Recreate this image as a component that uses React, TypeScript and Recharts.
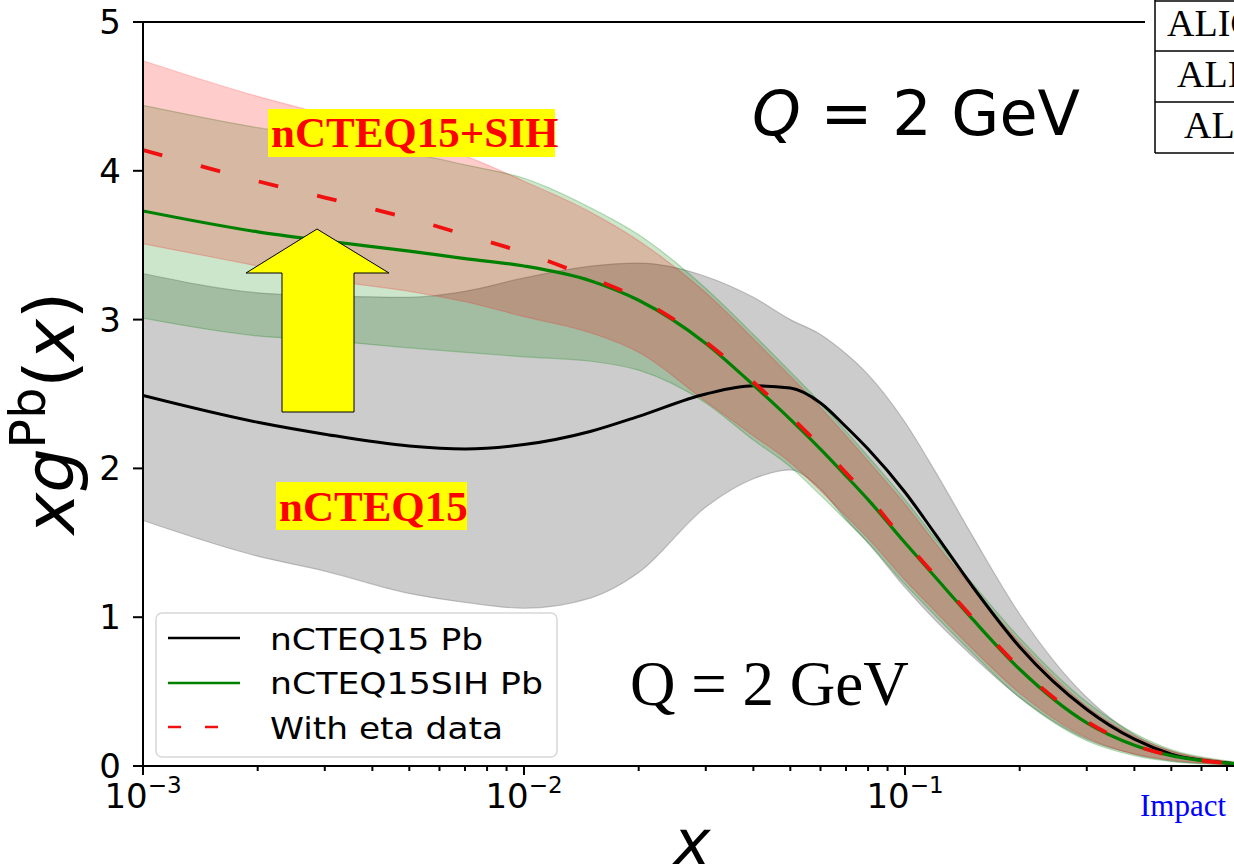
import React from 'react';
import { ComposedChart, Area, Line, XAxis, YAxis } from 'recharts';

// x positions (momentum fraction)
const xValues = [0.001, 0.002, 0.003, 0.005, 0.007, 0.01, 0.015, 0.02, 0.03, 0.04, 0.05, 0.06, 0.07, 0.08, 0.1, 0.12, 0.15, 0.2, 0.3, 0.4, 0.5, 0.7, 1.0];

// nCTEQ15 Pb (black) with grey band
const nctBlack = [2.49, 2.31, 2.23, 2.15, 2.13, 2.16, 2.25, 2.35, 2.50, 2.555, 2.54, 2.44, 2.28, 2.13, 1.84, 1.56, 1.21, 0.80, 0.38, 0.18, 0.08, 0.02, 0.0];
const greyHi = [3.31, 3.18, 3.16, 3.15, 3.19, 3.28, 3.36, 3.38, 3.29, 3.15, 3.00, 2.90, 2.77, 2.63, 2.31, 1.98, 1.55, 1.02, 0.46, 0.21, 0.10, 0.03, 0.0];
const greyLo = [1.65, 1.41, 1.31, 1.16, 1.10, 1.06, 1.13, 1.30, 1.74, 1.93, 1.99, 1.86, 1.66, 1.50, 1.20, 0.98, 0.74, 0.46, 0.18, 0.08, 0.035, 0.01, 0.0];

// nCTEQ15SIH Pb (green) with green band
const sihGreen = [3.73, 3.59, 3.53, 3.46, 3.41, 3.36, 3.26, 3.13, 2.84, 2.56, 2.33, 2.13, 1.95, 1.79, 1.50, 1.27, 0.99, 0.65, 0.29, 0.14, 0.07, 0.02, 0.0];
const greenHi = [4.44, 4.29, 4.22, 4.12, 4.04, 3.95, 3.75, 3.57, 3.21, 2.90, 2.65, 2.44, 2.25, 2.08, 1.79, 1.53, 1.23, 0.86, 0.43, 0.22, 0.11, 0.035, 0.0];
const greenLo = [3.01, 2.89, 2.86, 2.81, 2.78, 2.75, 2.72, 2.66, 2.44, 2.19, 2.01, 1.82, 1.65, 1.50, 1.22, 1.01, 0.76, 0.46, 0.17, 0.07, 0.03, 0.008, 0.0];

// With eta data (red dashed) with pink band
const etaRed = [4.14, 3.93, 3.82, 3.68, 3.57, 3.45, 3.28, 3.14, 2.85, 2.58, 2.35, 2.15, 1.97, 1.81, 1.51, 1.28, 1.00, 0.66, 0.30, 0.14, 0.07, 0.02, 0.0];
const redHi = [4.74, 4.50, 4.38, 4.22, 4.10, 3.93, 3.72, 3.53, 3.18, 2.87, 2.62, 2.41, 2.22, 2.05, 1.76, 1.50, 1.20, 0.83, 0.40, 0.20, 0.10, 0.03, 0.0];
const redLo = [3.51, 3.36, 3.27, 3.19, 3.12, 3.02, 2.91, 2.78, 2.45, 2.22, 2.04, 1.85, 1.68, 1.53, 1.25, 1.04, 0.79, 0.49, 0.19, 0.08, 0.04, 0.01, 0.0];

const majorTicks = [0.001, 0.01, 0.1, 1];
const majorExponents = ['\u22123', '\u22122', '\u22121', '0'];
const minorTicks = [
  0.002, 0.003, 0.004, 0.005, 0.006, 0.007, 0.008, 0.009,
  0.02, 0.03, 0.04, 0.05, 0.06, 0.07, 0.08, 0.09,
  0.2, 0.3, 0.4, 0.5, 0.6, 0.7, 0.8, 0.9,
];
const yTicks = [0, 1, 2, 3, 4, 5];

const legendLabels = ['nCTEQ15 Pb', 'nCTEQ15SIH Pb', 'With eta data'];

const data = xValues.map((x, i) => ({
  x,
  black: nctBlack[i],
  green: sihGreen[i],
  red: etaRed[i],
  greyBand: [greyLo[i], greyHi[i]],
  greenBand: [greenLo[i], greenHi[i]],
  redBand: [redLo[i], redHi[i]],
}));

const allXTicks = [...majorTicks, ...minorTicks].sort((a, b) => a - b);

const SANS = 'DejaVu Sans';
const SERIF = 'Liberation Serif';

const XTick = (props: any) => {
  const { x, y, payload } = props;
  const idx = majorTicks.indexOf(payload.value);
  const major = idx >= 0;
  return (
    <g>
      <line x1={x} x2={x} y1={y} y2={y + (major ? 9 : 5)} stroke="#000" strokeWidth={2} />
      {major && (
        <text x={x} y={y + 42} textAnchor="middle" fontFamily={SANS} fontSize={34} fill="#000">
          10<tspan dy={-15} fontSize={23}>{majorExponents[idx]}</tspan>
        </text>
      )}
    </g>
  );
};

export default function App() {
  return (
    <div style={{ position: 'absolute', left: 0, top: 0, width: 1234, height: 867, overflow: 'hidden', background: '#fff' }}>
      <ComposedChart
        width={1300}
        height={867}
        data={data}
        margin={{ top: 22, right: 14, bottom: 0, left: 0 }}
      >
        <XAxis
          dataKey="x"
          type="number"
          scale="log"
          domain={[0.001, 1]}
          allowDataOverflow
          ticks={allXTicks}
          interval={0}
          tick={<XTick />}
          tickLine={false}
          tickSize={0}
          tickMargin={0}
          height={101}
          axisLine={{ stroke: '#000', strokeWidth: 2 }}
        />
        <YAxis
          type="number"
          domain={[0, 5]}
          ticks={yTicks}
          width={143}
          tickSize={10}
          tickMargin={12}
          tick={{ fontSize: 34, fill: '#000', fontFamily: SANS }}
          tickLine={{ stroke: '#000', strokeWidth: 2 }}
          axisLine={{ stroke: '#000', strokeWidth: 2 }}
        />
        <Area dataKey="greyBand" type="monotone" fill="#808080" fillOpacity={0.4} stroke="#808080" strokeOpacity={0.45} strokeWidth={1.2} isAnimationActive={false} dot={false} activeDot={false} />
        <Area dataKey="greenBand" type="monotone" fill="#008000" fillOpacity={0.2} stroke="#008000" strokeOpacity={0.25} strokeWidth={1.2} isAnimationActive={false} dot={false} activeDot={false} />
        <Area dataKey="redBand" type="monotone" fill="#ff0000" fillOpacity={0.2} stroke="#ff0000" strokeOpacity={0.2} strokeWidth={1.2} isAnimationActive={false} dot={false} activeDot={false} />
        <Line dataKey="black" type="monotone" stroke="#000" strokeWidth={3} dot={false} activeDot={false} isAnimationActive={false} />
        <Line dataKey="green" type="monotone" stroke="#008000" strokeWidth={3.2} dot={false} activeDot={false} isAnimationActive={false} />
        <Line dataKey="red" type="monotone" stroke="#f01010" strokeWidth={3.8} strokeDasharray="20 40" dot={false} activeDot={false} isAnimationActive={false} />
      </ComposedChart>

      <svg width={1234} height={867} style={{ position: 'absolute', left: 0, top: 0, pointerEvents: 'none' }}>
        {/* top spine */}
        <line x1={143} x2={1145} y1={22} y2={22} stroke="#000" strokeWidth={2} />

        {/* y axis label */}
        <text transform="translate(74,413) rotate(-90)" textAnchor="middle" fontFamily={SANS} fontSize={70} fill="#000">
          <tspan fontStyle="italic">xg</tspan>
          <tspan dy={-29} fontSize={49}>Pb</tspan>
          <tspan dy={29}>(</tspan>
          <tspan fontStyle="italic">x</tspan>
          <tspan>)</tspan>
        </text>

        {/* x axis label */}
        <text x={692} y={864} textAnchor="middle" fontFamily={SANS} fontStyle="italic" fontSize={62} fill="#000">x</text>

        {/* legend */}
        <rect x={156} y={613} width={401} height={144} rx={6} fill="#fff" fillOpacity={0.85} stroke="#d8d8d8" strokeWidth={1.5} />
        <line x1={168} x2={240} y1={638} y2={638} stroke="#000" strokeWidth={2.5} />
        <line x1={168} x2={240} y1={683} y2={683} stroke="#008000" strokeWidth={2.5} />
        <line x1={168} x2={240} y1={727} y2={727} stroke="#f01010" strokeWidth={2.5} strokeDasharray="13 24" />
        <text x={270} y={650} fontFamily={SANS} fontSize={31} textLength={213} lengthAdjust="spacingAndGlyphs" fill="#000">{legendLabels[0]}</text>
        <text x={270} y={694} fontFamily={SANS} fontSize={31} textLength={273} lengthAdjust="spacingAndGlyphs" fill="#000">{legendLabels[1]}</text>
        <text x={270} y={739} fontFamily={SANS} fontSize={31} textLength={233} lengthAdjust="spacingAndGlyphs" fill="#000">{legendLabels[2]}</text>

        {/* Q = 2 GeV (top) */}
        <text x={752} y={135} fontFamily={SANS} fontSize={62} fill="#000">
          <tspan fontStyle="italic">Q</tspan> = 2 GeV
        </text>

        {/* Q = 2 GeV (bottom, serif) */}
        <text x={630} y={705} fontFamily={SERIF} fontSize={63} fill="#000">Q = 2 GeV</text>

        {/* yellow arrow */}
        <polygon points="282,412 354,412 354,273 389,273 317,229 246,273 282,273" fill="#ffff00" stroke="#000" strokeWidth={1} />

        {/* highlighted labels */}
        <rect x={268} y={109} width={287} height={48} fill="#ffff00" />
        <text x={271} y={147} fontFamily={SERIF} fontWeight="bold" fontSize={43} fill="#ff0000">nCTEQ15+SIH</text>
        <rect x={276} y={482} width={191} height={48} fill="#ffff00" />
        <text x={279} y={521} fontFamily={SERIF} fontWeight="bold" fontSize={43} fill="#ff0000">nCTEQ15</text>

        {/* table at top right */}
        <line x1={1155} x2={1155} y1={0} y2={153} stroke="#000" strokeWidth={1.5} />
        <line x1={1155} x2={1234} y1={1} y2={1} stroke="#000" strokeWidth={1.5} />
        <line x1={1155} x2={1234} y1={51} y2={51} stroke="#000" strokeWidth={1.5} />
        <line x1={1155} x2={1234} y1={102} y2={102} stroke="#000" strokeWidth={1.5} />
        <line x1={1155} x2={1234} y1={153} y2={153} stroke="#000" strokeWidth={1.5} />
        <text x={1167} y={36} fontFamily={SERIF} fontSize={38} fill="#000">ALICE</text>
        <text x={1177} y={87} fontFamily={SERIF} fontSize={38} fill="#000">ALICE</text>
        <text x={1184} y={138} fontFamily={SERIF} fontSize={38} fill="#000">ALICE</text>

        {/* Impact */}
        <text x={1140} y={816} fontFamily={SERIF} fontSize={31} fill="#0000ff">Impact</text>
      </svg>
    </div>
  );
}
